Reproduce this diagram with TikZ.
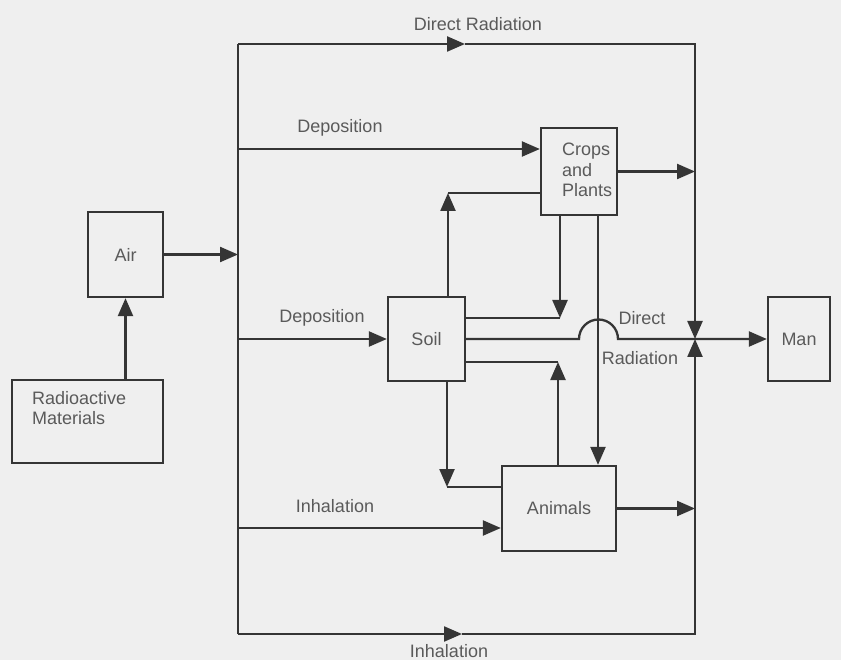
\documentclass[tikz,border=0pt]{standalone}
\usepackage{fontspec}
\setmainfont{Liberation Sans}
\usetikzlibrary{arrows.meta, positioning, calc}
\definecolor{inkline}{HTML}{353535}
\definecolor{inktext}{HTML}{5A5A5A}
\definecolor{paper}{HTML}{EFEFEF}

\begin{document}
\begin{tikzpicture}[x=1pt, y=1pt,
  box/.style={rectangle, draw=inkline, line width=2.3pt, inner sep=0pt, font=\fontsize{18}{20.5}\selectfont, text=inktext},
  arr/.style={-{Triangle[length=18pt, width=15pt]}, line width=2.3pt, draw=inkline},
  wire/.style={line width=2.3pt, draw=inkline},
  lbl/.style={font=\fontsize{18}{20.5}\selectfont, text=inktext, inner sep=0pt}
]
  \fill[paper] (0,0) rectangle (841,-660);
  \useasboundingbox (0,0) rectangle (841,-660);

  % Boxes
  \node[box, minimum width=75pt, minimum height=85pt] (air) at (125.5,-254.5) {Air};
  \node[box, minimum width=151pt, minimum height=83pt] (rad) at (87.5,-421.5) {};
  \node[lbl, align=left, anchor=north west] (radtxt) at ([shift={(21,-12)}]rad.north west) {Radioactive\\Materials};
  \node[box, minimum width=76pt, minimum height=87pt] (crops) at (579,-171.5) {};
  \node[lbl, align=left, anchor=west] (cropstxt) at (562,-170) {Crops\\and\\Plants};
  \node[box, minimum width=77pt, minimum height=84pt] (soil) at (426.5,-339) {Soil};
  \node[box, minimum width=114pt, minimum height=85pt] (animals) at (559,-508.5) {Animals};
  \node[box, minimum width=62pt, minimum height=84pt] (man) at (799,-339) {Man};

  % Outer loop
  \coordinate (tl) at (238,-44);
  \coordinate (tr) at (695,-44);
  \coordinate (bl) at (238,-634);
  \coordinate (br) at (695,-634);
  \coordinate (tm) at (465,-44);
  \coordinate (bm) at (462,-634);
  \coordinate (jn) at (695,-339);
  \draw[wire] (tl) -- (bl);
  \draw[arr] (tl) -- (tm);
  \draw[arr] (tm) -- (tr) -- (jn);
  \draw[arr] (bl) -- (bm);
  \draw[arr] (bm) -- (br) -- (jn);
  \node[lbl] (dirrad) at (478,-24) {Direct Radiation};
  \node[lbl] (inhal2) at (449,-651) {Inhalation};

  % Air
  \draw[arr] (air.south |- rad.north) -- (air.south);
  \draw[arr] (air.east) -- (air.east -| tl);

  % Deposition to crops
  \coordinate (d1) at (238,-149);
  \draw[arr] (d1) -- (d1 -| crops.west);
  \node[lbl] (dep1) at (340,-128) {Deposition};
  \draw[arr] (crops.east) -- (crops.east -| tr);

  % Deposition to soil
  \draw[arr] (tl |- soil.west) -- (soil.west);
  \node[lbl] (dep2) at (322,-318) {Deposition};

  % Soil and crops
  \coordinate (c1) at (448,-193);
  \draw[arr] (c1 |- soil.north) -- (c1);
  \draw[wire] (c1) -- (c1 -| crops.west);
  \coordinate (c2) at (560,-318);
  \draw[arr] (c2 |- crops.south) -- (c2);
  \draw[wire] (c2) -- (c2 -| soil.east);
  \coordinate (c3) at (598,-215);
  \draw[arr] (c3 |- crops.south) -- (c3 |- animals.north);

  % Soil to man, hopping over
  \coordinate (hop) at (579,-339);
  \draw[arr] (soil.east) -- (hop) arc (180:0:19.5pt) -- (man.west);
  \node[lbl] (direct) at (642,-318) {Direct};
  \node[lbl] (radiat) at (640,-358) {Radiation};

  % Soil and animals
  \coordinate (c4) at (558,-362);
  \draw[arr] (c4 |- animals.north) -- (c4);
  \draw[wire] (c4) -- (c4 -| soil.east);
  \coordinate (c5) at (447,-487);
  \draw[arr] (c5 |- soil.south) -- (c5);
  \draw[wire] (c5) -- (c5 -| animals.west);

  % Inhalation to animals
  \coordinate (i1) at (238,-528);
  \draw[arr] (i1) -- (i1 -| animals.west);
  \node[lbl] (inhal1) at (335,-506) {Inhalation};
  \draw[arr] (animals.east) -- (animals.east -| br);
\end{tikzpicture}
\end{document}
